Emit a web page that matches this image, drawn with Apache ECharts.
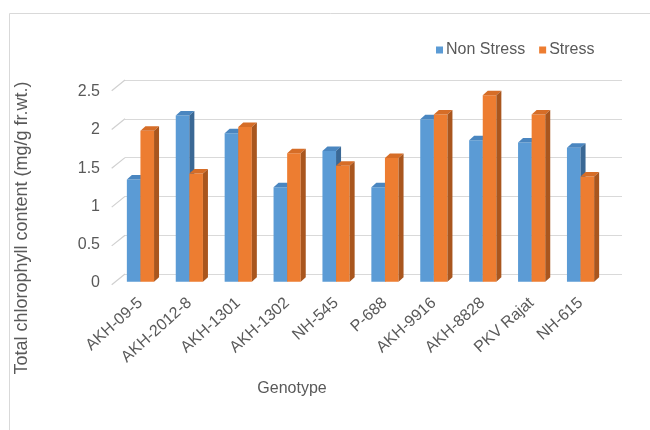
<!DOCTYPE html>
<html>
<head>
<meta charset="utf-8">
<script src="https://cdn.jsdelivr.net/npm/echarts@6/dist/echarts.min.js"></script>
<style>
  html, body { margin: 0; padding: 0; background: #fff; }
  #chart { width: 650px; height: 430px; }
</style>
</head>
<body>
<div id="chart"></div>
<script>
// data
var genotypes = ['AKH-09-5', 'AKH-2012-8', 'AKH-1301', 'AKH-1302', 'NH-545', 'P-688', 'AKH-9916', 'AKH-8828', 'PKV Rajat', 'NH-615'];
var nonStress = [1.32, 2.15, 1.92, 1.22, 1.69, 1.22, 2.10, 1.83, 1.80, 1.73];
var stress = [1.95, 1.40, 2.00, 1.66, 1.50, 1.60, 2.16, 2.41, 2.16, 1.36];
var yTicks = [0, 0.5, 1, 1.5, 2, 2.5];

var textColor = '#595959';
var fontFam = '"Liberation Sans", Arial, sans-serif';

// fake excel-style 3d column: front face, top cap, right side
function bar3d(offset, face, top, side) {
  return function (params, api) {
    var cat = api.value(0);
    var p = api.coord([cat, api.value(1)]);
    var p0 = api.coord([cat, 0]);
    var band = api.size([1, 0])[0];
    var w = band * 0.278;
    var x = offset < 0 ? p[0] - w : p[0];
    var yt = p[1], yb = p0[1];
    var dx = 5, dy = -4.5;
    return {
      type: 'group',
      children: [
        { type: 'rect', shape: { x: x, y: yt, width: w, height: yb - yt }, style: { fill: face } },
        { type: 'polygon', shape: { points: [[x, yt], [x + w, yt], [x + w + dx, yt + dy], [x + dx, yt + dy]] }, style: { fill: top } },
        { type: 'polygon', shape: { points: [[x + w, yt], [x + w + dx, yt + dy], [x + w + dx, yb + dy], [x + w, yb]] }, style: { fill: side } }
      ]
    };
  };
}

var chart = echarts.init(document.getElementById('chart'));
chart.setOption({
  animation: false,
  textStyle: { fontFamily: fontFam },
  graphic: [
    { type: 'rect', shape: { x: 9.5, y: 13.5, width: 700, height: 500 }, style: { fill: 'none', stroke: '#d9d9d9', lineWidth: 1 }, z: -1 },
    { type: 'text', x: 22, y: 228, rotation: Math.PI / 2,
      style: { text: 'Total chlorophyll content (mg/g fr.wt.)', fill: textColor, font: '18px ' + fontFam, align: 'center', verticalAlign: 'middle' } },
    { type: 'text', x: 292, y: 389,
      style: { text: 'Genotype', fill: textColor, font: '16px ' + fontFam, align: 'center', verticalAlign: 'middle' } }
  ],
  legend: {
    data: ['Non Stress', 'Stress'],
    left: 431, top: 37,
    icon: 'rect', itemWidth: 7, itemHeight: 7, itemGap: 14,
    textStyle: { fontSize: 16, color: textColor, padding: [0, 0, 0, -2] }
  },
  grid: [
    { left: 116, right: 45, top: 88.3, bottom: 148.3 },   // bars
    { left: 125, right: 28, top: 80, bottom: 156 },       // back wall
    { left: 116, right: 45, top: 91.5, bottom: 147 }      // front plane, tick labels
  ],
  xAxis: [
    {
      type: 'category', gridIndex: 0, data: genotypes,
      axisLine: { show: false }, axisTick: { show: false },
      axisLabel: { interval: 0, rotate: 42, fontSize: 16, color: textColor, margin: 19 }
    },
    { type: 'category', gridIndex: 1, data: genotypes, show: false },
    { type: 'category', gridIndex: 2, data: genotypes, show: false }
  ],
  yAxis: [
    {
      type: 'value', gridIndex: 0, min: 0, max: 2.5, interval: 0.5,
      axisLine: { show: false }, axisTick: { show: false }, splitLine: { show: false },
      axisLabel: { show: false }
    },
    {
      type: 'value', gridIndex: 1, min: 0, max: 2.5, interval: 0.5,
      axisLine: { show: false }, axisTick: { show: false }, axisLabel: { show: false },
      splitLine: { lineStyle: { color: '#d9d9d9', width: 1 } }
    },
    {
      type: 'value', gridIndex: 2, min: 0, max: 2.5, interval: 0.5,
      axisLine: { show: false }, axisTick: { show: false }, splitLine: { show: false },
      axisLabel: { fontSize: 16, color: textColor, margin: 16 }
    }
  ],
  series: [
    {
      name: 'wall', type: 'custom', xAxisIndex: 1, yAxisIndex: 1, silent: true, clip: false,
      data: yTicks.map(function (t) { return [0, t]; }),
      renderItem: function (params, api) {
        var p = api.coord([0, api.value(1)]);
        var x = p[0] - api.size([1, 0])[0] / 2;
        var y = p[1];
        return { type: 'line', shape: { x1: x, y1: y, x2: x - 13.3, y2: y + 10.7 }, style: { stroke: '#d0d0d0', lineWidth: 1.2 } };
      }
    },
    {
      name: 'Non Stress', type: 'custom', xAxisIndex: 0, yAxisIndex: 0,
      itemStyle: { color: '#5B9BD5' },
      data: nonStress.map(function (v, i) { return [i, v]; }),
      renderItem: bar3d(-1, '#5B9BD5', '#4A86C0', '#3A6895')
    },
    {
      name: 'Stress', type: 'custom', xAxisIndex: 0, yAxisIndex: 0,
      itemStyle: { color: '#ED7D31' },
      data: stress.map(function (v, i) { return [i, v]; }),
      renderItem: bar3d(1, '#ED7D31', '#D66D27', '#A9561E')
    }
  ]
});
</script>
</body>
</html>
